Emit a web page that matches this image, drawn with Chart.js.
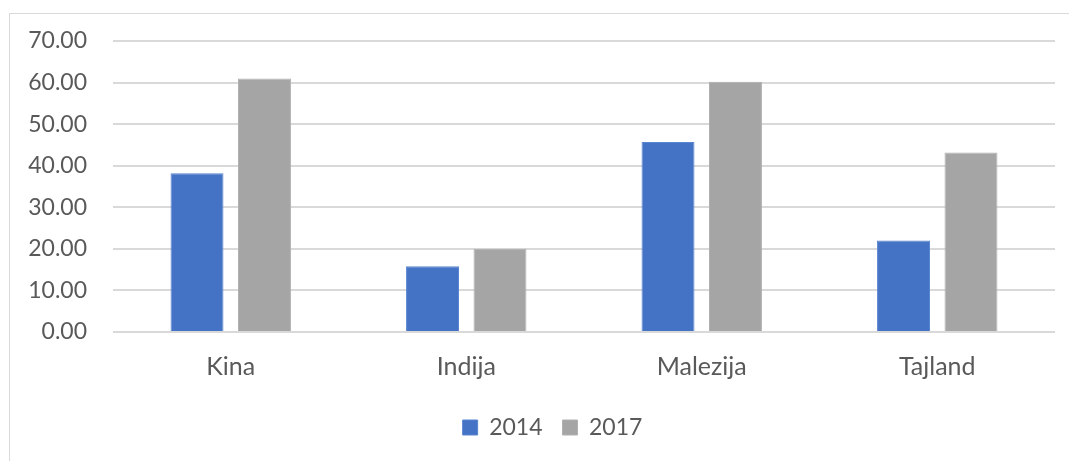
<!DOCTYPE html>
<html>
<head>
<meta charset="utf-8">
<script src="https://cdn.jsdelivr.net/npm/chart.js@4.4.0/dist/chart.umd.min.js"></script>
<style>
  html, body { margin: 0; padding: 0; background: #ffffff; overflow: hidden; width: 1069px; height: 461px; }
  #frame { position: absolute; left: 9px; top: 13px; width: 1083px; height: 460px; border: 1px solid #d9d9d9; box-sizing: border-box; background: #fff; }
  #wrap { position: absolute; left: 0; top: 0; width: 1081px; height: 458px; }
</style>
</head>
<body>
<div id="frame"><div id="wrap"><canvas id="c"></canvas></div></div>
<script>
const categories = ["Kina", "Indija", "Malezija", "Tajland"];
const series2014 = [38.2, 15.8, 45.7, 22.0];
const series2017 = [61.0, 20.0, 60.2, 43.2];
const seriesLabels = ["2014", "2017"];
const yTicks = [0, 10, 20, 30, 40, 50, 60, 70];

const FONT = "Lato, 'Open Sans', sans-serif";
const TXT = "#595959";

const shiftLegend = {
  id: "shiftLegend",
  afterLayout(chart) {
    const lg = chart.legend;
    if (lg) { lg.left += 20; lg.right += 20; }
  }
};

new Chart(document.getElementById("c"), {
  type: "bar",
  data: {
    labels: categories,
    datasets: [
      { label: seriesLabels[0], data: series2014, backgroundColor: "#4472C4", borderColor: "#5a85d0", borderWidth: 1,
        categoryPercentage: 0.573, barPercentage: 0.785 },
      { label: seriesLabels[1], data: series2017, backgroundColor: "#A5A5A5", borderColor: "#b0b0b0", borderWidth: 1,
        categoryPercentage: 0.573, barPercentage: 0.785 }
    ]
  },
  plugins: [shiftLegend],
  options: {
    responsive: true,
    maintainAspectRatio: false,
    animation: false,
    layout: { padding: { top: 27, right: 36, bottom: 23, left: 0 } },
    plugins: {
      tooltip: { enabled: false },
      legend: {
        position: "bottom",
        labels: {
          boxWidth: 15, boxHeight: 15, padding: 20,
          color: TXT,
          font: { family: FONT, size: 23 }
        }
      }
    },
    scales: {
      x: {
        grid: { display: false, drawTicks: false },
        border: { display: false },
        ticks: { color: TXT, font: { family: FONT, size: 25 }, padding: 20 },
        afterFit: (s) => { s.height = 64; }
      },
      y: {
        min: 0, max: 70,
        afterBuildTicks: (s) => { s.ticks = yTicks.map(v => ({ value: v })); },
        grid: { color: "#d9d9d9", lineWidth: 2, drawTicks: false },
        border: { display: false },
        ticks: {
          color: TXT, font: { family: FONT, size: 23 }, padding: 26,
          callback: (v) => Number(v).toFixed(2)
        },
        afterFit: (s) => { s.width = 103; s.paddingTop = 0; s.paddingBottom = 0; }
      }
    }
  }
});
</script>
</body>
</html>
